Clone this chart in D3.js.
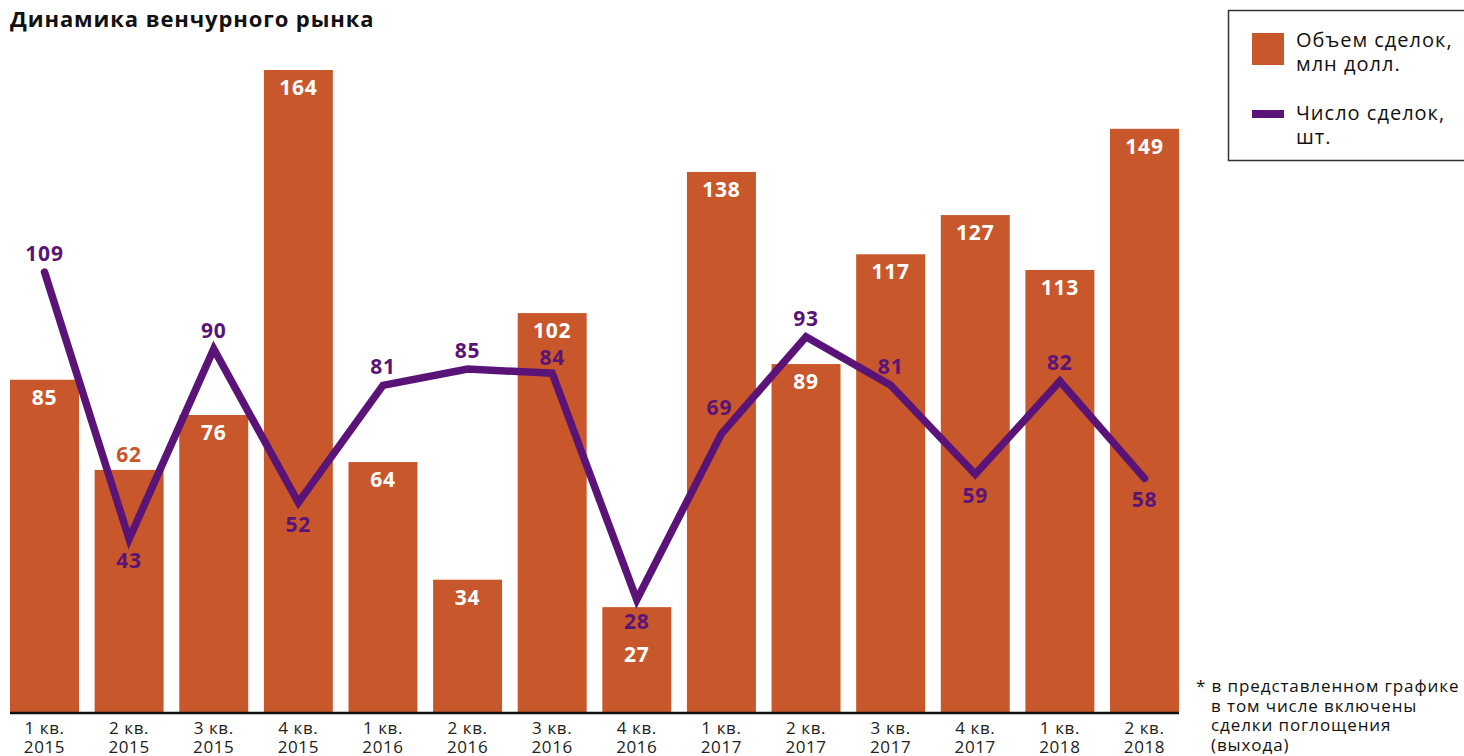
<!DOCTYPE html>
<html lang="ru">
<head>
<meta charset="utf-8">
<script src="https://cdn.jsdelivr.net/npm/d3@7"></script>
<style>
  html, body { margin: 0; padding: 0; background: #fff; }
  svg { display: block; font-family: "Open Sans", "Noto Sans", sans-serif; }
</style>
</head>
<body>
<svg id="chart" width="1464" height="756"></svg>
<script>
// Quarters shown on the x axis
const quarters = ["1 кв.", "2 кв.", "3 кв.", "4 кв.", "1 кв.", "2 кв.", "3 кв.", "4 кв.", "1 кв.", "2 кв.", "3 кв.", "4 кв.", "1 кв.", "2 кв."];
const years = ["2015", "2015", "2015", "2015", "2016", "2016", "2016", "2016", "2017", "2017", "2017", "2017", "2018", "2018"];
// Deal volume, mln USD (bars)
const dealVolume = [85, 62, 76, 164, 64, 34, 102, 27, 138, 89, 117, 127, 113, 149];
// Number of deals (line)
const dealCount = [109, 43, 90, 52, 81, 85, 84, 28, 69, 93, 81, 59, 82, 58];
// Where each count label sits relative to its point
const countLabelSide = ["above", "below", "above", "below", "above", "above", "above", "below", "above", "above", "above", "below", "above", "below"];

const BAR_COLOR = "#c8572b";
const LINE_COLOR = "#5a1478";

const svg = d3.select("#chart");
const baseY = 713;

const x = d3.scaleBand()
  .domain(d3.range(quarters.length))
  .range([2.2, 1186.8])
  .paddingInner(0.185)
  .paddingOuter(0.0925);

const yBar = d3.scaleLinear().domain([0, 164]).range([baseY, 70]);
const yLine = d3.scaleLinear().domain([0, 109]).range([baseY, 272]);

// Title
svg.append("text")
  .attr("x", 10).attr("y", 27)
  .attr("font-size", 22).attr("font-weight", 700).attr("fill", "#111")
  .attr("letter-spacing", 0.9)
  .text("Динамика венчурного рынка");

// Bars
svg.append("g").selectAll("rect")
  .data(dealVolume)
  .join("rect")
  .attr("x", (d, i) => x(i))
  .attr("y", d => yBar(d))
  .attr("width", x.bandwidth())
  .attr("height", d => baseY - yBar(d))
  .attr("fill", BAR_COLOR);

// Baseline
svg.append("line")
  .attr("x1", 10).attr("x2", x(quarters.length - 1) + x.bandwidth())
  .attr("y1", baseY).attr("y2", baseY)
  .attr("stroke", "#111").attr("stroke-width", 2.5);

// Volume labels: white inside the bar, except where the line crosses
svg.append("g").selectAll("text")
  .data(dealVolume)
  .join("text")
  .attr("x", (d, i) => x(i) + x.bandwidth() / 2)
  .attr("y", (d, i) => {
    if (i === 1) return yBar(d) - 8;
    if (i === 7) return yBar(d) + 55;
    return yBar(d) + 25;
  })
  .attr("text-anchor", "middle")
  .attr("font-size", 21).attr("font-weight", 700)
  .attr("letter-spacing", 0.8)
  .attr("fill", (d, i) => i === 1 ? BAR_COLOR : "#fff")
  .text(d => d);

// Deal count line
const line = d3.line()
  .x((d, i) => x(i) + x.bandwidth() / 2)
  .y(d => yLine(d));

svg.append("path")
  .datum(dealCount)
  .attr("d", line)
  .attr("fill", "none")
  .attr("stroke", LINE_COLOR)
  .attr("stroke-width", 7.5)
  .attr("stroke-linejoin", "miter")
  .attr("stroke-linecap", "round");

svg.append("g").selectAll("text")
  .data(dealCount)
  .join("text")
  .attr("x", (d, i) => x(i) + x.bandwidth() / 2 + (i === 8 ? -2 : 0))
  .attr("y", (d, i) => {
    if (i === 8) return yLine(d) - 19;
    if (i === 6) return yLine(d) - 8;
    return countLabelSide[i] === "above" ? yLine(d) - 11 : yLine(d) + 29;
  })
  .attr("text-anchor", "middle")
  .attr("font-size", 21).attr("font-weight", 700)
  .attr("letter-spacing", 0.8)
  .attr("fill", LINE_COLOR)
  .text(d => d);

// X axis labels, two lines per quarter
const xAxisLabels = svg.append("g").attr("font-size", 17).attr("fill", "#222")
  .attr("text-anchor", "middle").attr("letter-spacing", 0.6);
xAxisLabels.selectAll("text.q")
  .data(quarters)
  .join("text")
  .attr("class", "q")
  .attr("x", (d, i) => x(i) + x.bandwidth() / 2)
  .attr("y", 734)
  .text(d => d);
xAxisLabels.selectAll("text.yr")
  .data(years)
  .join("text")
  .attr("class", "yr")
  .attr("x", (d, i) => x(i) + x.bandwidth() / 2)
  .attr("y", 753)
  .text(d => d);

// Legend
const lg = svg.append("g");
lg.append("rect")
  .attr("x", 1228.5).attr("y", 10.5).attr("width", 260).attr("height", 150)
  .attr("fill", "#fff").attr("stroke", "#333").attr("stroke-width", 1.5);
lg.append("rect")
  .attr("x", 1252).attr("y", 33).attr("width", 32).attr("height", 32)
  .attr("fill", BAR_COLOR);
lg.append("rect")
  .attr("x", 1252).attr("y", 110).attr("width", 32).attr("height", 8)
  .attr("fill", LINE_COLOR);
const legendText = [
  ["Объем сделок,", 47], ["млн долл.", 71],
  ["Число сделок,", 120], ["шт.", 144]
];
lg.selectAll("text.lt")
  .data(legendText)
  .join("text")
  .attr("class", "lt")
  .attr("x", 1296).attr("y", d => d[1])
  .attr("font-size", 20).attr("fill", "#111")
  .attr("letter-spacing", 1)
  .text(d => d[0]);

// Footnote
const notes = [
  ["* в представленном графике", 1196],
  ["в том числе включены", 1211],
  ["сделки поглощения", 1211],
  ["(выхода)", 1211]
];
svg.append("g").selectAll("text")
  .data(notes)
  .join("text")
  .attr("x", d => d[1])
  .attr("y", (d, i) => 692 + i * 19.5)
  .attr("font-size", 17).attr("fill", "#111")
  .attr("letter-spacing", 0.9)
  .text(d => d[0]);
</script>
</body>
</html>
